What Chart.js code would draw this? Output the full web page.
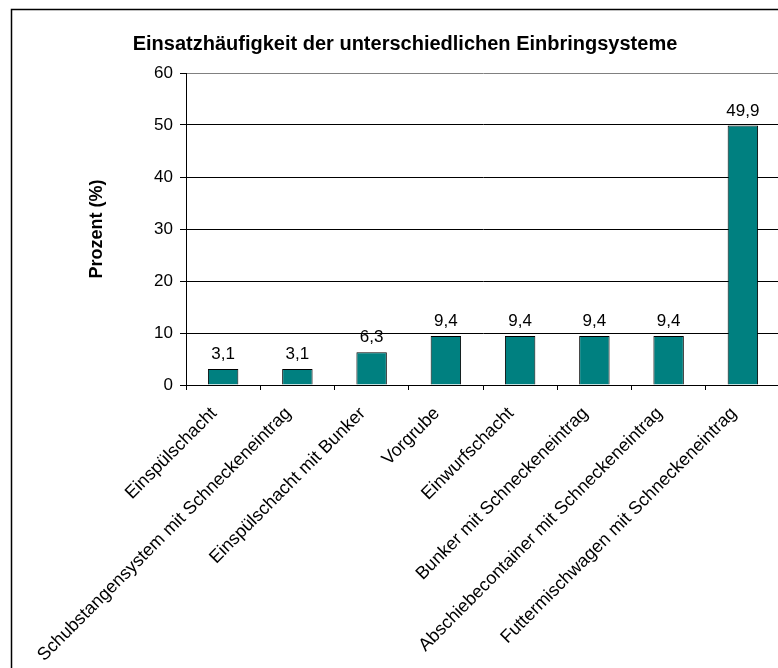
<!DOCTYPE html>
<html>
<head>
<meta charset="utf-8">
<script src="https://cdn.jsdelivr.net/npm/chart.js@4/dist/chart.umd.min.js"></script>
<style>
  html, body { margin: 0; padding: 0; background: #fff; overflow: hidden; }
  #wrap { width: 790px; height: 668px; }
</style>
</head>
<body>
<div id="wrap"><canvas id="myChart" width="790" height="668"></canvas></div>
<script>
// Datos del gráfico
var kategorien = [
    "Einspülschacht",
    "Schubstangensystem mit Schneckeneintrag",
    "Einspülschacht mit Bunker",
    "Vorgrube",
    "Einwurfschacht",
    "Bunker mit Schneckeneintrag",
    "Abschiebecontainer mit Schneckeneintrag",
    "Futtermischwagen mit Schneckeneintrag"
];
var prozent = [3.1, 3.1, 6.3, 9.4, 9.4, 9.4, 9.4, 49.9];
var yTicks = [0, 10, 20, 30, 40, 50, 60];

var schrift = "'Liberation Sans', Arial, sans-serif";

// Rahmen um das ganze Diagramm (rechts und unten abgeschnitten)
var rahmenPlugin = {
    id: 'rahmen',
    beforeDraw: function (chart) {
        var ctx = chart.ctx;
        ctx.save();
        ctx.fillStyle = '#fff';
        ctx.fillRect(0, 0, chart.width, chart.height);
        ctx.strokeStyle = '#000';
        ctx.lineWidth = 1.5;
        ctx.strokeRect(11.5, 9.5, chart.width + 20, chart.height + 20);
        ctx.restore();
    }
};

// Werte über den Balken
var wertePlugin = {
    id: 'werte',
    afterDatasetsDraw: function (chart) {
        var ctx = chart.ctx;
        var meta = chart.getDatasetMeta(0);
        ctx.save();
        ctx.font = '17px ' + schrift;
        ctx.fillStyle = '#000';
        ctx.textAlign = 'center';
        ctx.textBaseline = 'alphabetic';
        meta.data.forEach(function (bar, i) {
            var txt = prozent[i].toFixed(1).replace('.', ',');
            ctx.fillText(txt, bar.x, bar.y - 10);
        });
        ctx.restore();
    }
};

var ctx = document.getElementById('myChart').getContext('2d');
var myChart = new Chart(ctx, {
    type: 'bar',
    data: {
        labels: kategorien,
        datasets: [{
            label: 'Prozent',
            data: prozent,
            backgroundColor: '#008080',
            borderColor: '#000',
            borderWidth: 1,
            categoryPercentage: 1,
            barPercentage: 0.41
        }]
    },
    options: {
        responsive: false,
        animation: false,
        devicePixelRatio: 1,
        layout: { padding: { left: 30, top: 20, right: 10, bottom: 0 } },
        plugins: {
            legend: { display: false },
            tooltip: { enabled: false },
            title: {
                display: true,
                text: 'Einsatzhäufigkeit der unterschiedlichen Einbringsysteme',
                color: '#000',
                font: { family: schrift, size: 20, weight: 'bold' },
                padding: { top: 12, bottom: 17 }
            }
        },
        scales: {
            x: {
                afterFit: function (scale) { scale.height = 283; },
                grid: {
                    display: true,
                    drawOnChartArea: false,
                    drawTicks: true,
                    tickLength: 5,
                    color: '#000',
                    offset: true
                },
                border: { display: true, color: '#000', width: 1 },
                ticks: {
                    autoSkip: false,
                    minRotation: 45,
                    maxRotation: 45,
                    padding: 13,
                    labelOffset: -9,
                    color: '#000',
                    font: { family: schrift, size: 18 }
                }
            },
            y: {
                min: 0,
                max: 60,
                afterFit: function (scale) { scale.width = 156; },
                afterBuildTicks: function (scale) {
                    scale.ticks = yTicks.map(function (v) { return { value: v }; });
                },
                grid: {
                    color: function (c) { return c.tick && c.tick.value === 60 ? '#808080' : '#000'; },
                    lineWidth: 1,
                    drawTicks: true,
                    tickLength: 6,
                    tickColor: '#000'
                },
                border: { display: true, color: '#000', width: 1 },
                ticks: {
                    padding: 7,
                    color: '#000',
                    font: { family: schrift, size: 17 }
                },
                title: {
                    display: true,
                    text: 'Prozent (%)',
                    color: '#000',
                    font: { family: schrift, size: 18, weight: 'bold' },
                    padding: { top: 56, bottom: 0 }
                }
            }
        }
    },
    plugins: [rahmenPlugin, wertePlugin]
});
</script>
</body>
</html>
